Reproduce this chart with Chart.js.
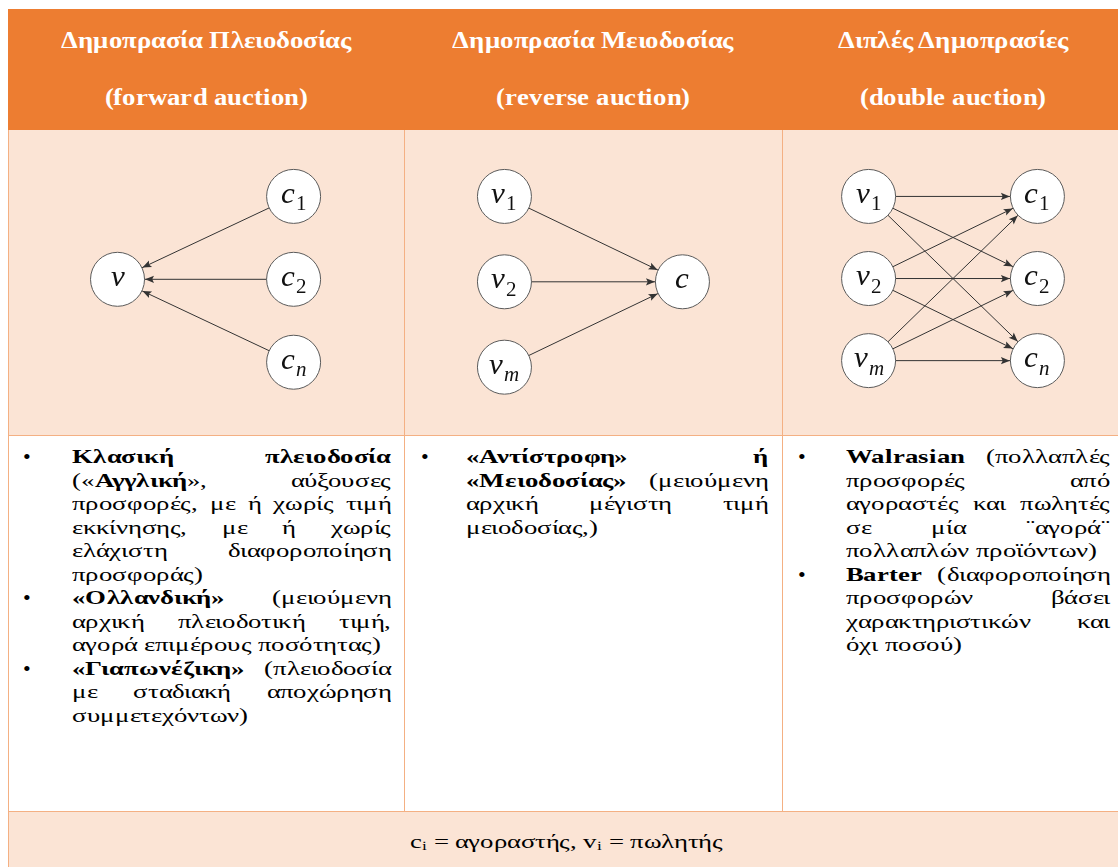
<!DOCTYPE html>
<html>
<head>
<meta charset="utf-8">
<script src="https://cdn.jsdelivr.net/npm/chart.js@4.4.1/dist/chart.umd.min.js"></script>
<style>
  @font-face { font-family: 'DocSerif'; font-style: normal; font-weight: 400;
    src: local('Liberation Serif'), local('LiberationSerif'), local('DejaVu Serif'); }
  @font-face { font-family: 'DocSerif'; font-style: normal; font-weight: 700;
    src: local('Liberation Serif Bold'), local('LiberationSerif-Bold'), local('DejaVu Serif Bold'); }
  @font-face { font-family: 'DocSerif'; font-style: italic; font-weight: 400;
    src: local('Liberation Serif Italic'), local('LiberationSerif-Italic'), local('DejaVu Serif Italic'); }
  html, body { margin: 0; padding: 0; background: #fff; }
  body {
    width: 1118px; height: 867px; overflow: hidden; position: relative;
    font-family: 'DocSerif', 'Liberation Serif', serif; color: #000;
  }
  .abs { position: absolute; box-sizing: border-box; }
  .head { background: #ED7D31; }
  .peach { background: #FBE4D5; }
  .hline { background: #F4B083; height: 1px; }
  .vline { background: #F4B083; width: 1px; }
  .htxt {
    color: #fff; font-weight: bold; font-size: 24px; line-height: 30px;
    text-align: center; white-space: nowrap; transform-origin: 50% 0;
  }
  .list { font-size: 20px; line-height: 23.5px; transform-origin: 0 0; }
  .ln { height: 23.5px; }
  .j { text-align: justify; text-align-last: justify; }
  .bul { position: absolute; font-size: 22px; line-height: 23.5px; }
  .foot { font-size: 20px; line-height: 24px; text-align: center; white-space: nowrap; transform-origin: 50% 0; }
  .foot sub { font-size: 13px; vertical-align: -2px; line-height: 0; }
  canvas { position: absolute; }
</style>
</head>
<body>

<!-- header row -->
<div class="abs head" style="left:8px;top:9px;width:1116px;height:121px;"></div>
<div class="abs htxt" style="left:8px;width:396px;top:25px;">Δημοπρασία Πλειοδοσίας</div>
<div class="abs htxt" style="left:8px;width:396px;top:82px;">(forward auction)</div>
<div class="abs htxt" style="left:404px;width:378px;top:25px;">Δημοπρασία Μειοδοσίας</div>
<div class="abs htxt" style="left:404px;width:378px;top:82px;">(reverse auction)</div>
<div class="abs htxt" style="left:782px;width:342px;top:25px;">Διπλές Δημοπρασίες</div>
<div class="abs htxt" style="left:782px;width:342px;top:82px;">(double auction)</div>

<!-- diagram row + footer backgrounds -->
<div class="abs peach" style="left:8px;top:130px;width:1116px;height:306px;"></div>
<div class="abs peach" style="left:8px;top:812px;width:1116px;height:60px;"></div>

<!-- grid lines -->
<div class="abs hline" style="left:8px;top:435px;width:1116px;"></div>
<div class="abs hline" style="left:8px;top:811px;width:1116px;"></div>
<div class="abs vline" style="left:8px;top:130px;height:740px;"></div>
<div class="abs vline" style="left:404px;top:130px;height:682px;"></div>
<div class="abs vline" style="left:782px;top:130px;height:682px;"></div>

<!-- diagrams -->
<canvas id="fwd" width="396" height="306" style="left:8px;top:130px;"></canvas>
<canvas id="rev" width="378" height="306" style="left:404px;top:130px;"></canvas>
<canvas id="dbl" width="342" height="306" style="left:782px;top:130px;"></canvas>

<!-- column 1 list -->
<div class="bul" style="left:23px;top:445px;">•</div>
<div class="bul" style="left:23px;top:586px;">•</div>
<div class="bul" style="left:23px;top:656.5px;">•</div>
<div class="abs list" data-w="319" style="left:72px;top:445px;">
  <div class="ln j"><b>Κλασική</b> <b>πλειοδοσία</b></div>
  <div class="ln j">(«<b>Αγγλική</b>», αύξουσες</div>
  <div class="ln j">προσφορές, με ή χωρίς τιμή</div>
  <div class="ln j">εκκίνησης, με ή χωρίς</div>
  <div class="ln j">ελάχιστη διαφοροποίηση</div>
  <div class="ln">προσφοράς)</div>
  <div class="ln j"><b>«Ολλανδική»</b> (μειούμενη</div>
  <div class="ln j">αρχική πλειοδοτική τιμή,</div>
  <div class="ln">αγορά επιμέρους ποσότητας)</div>
  <div class="ln j"><b>«Γιαπωνέζικη»</b> (πλειοδοσία</div>
  <div class="ln j">με σταδιακή αποχώρηση</div>
  <div class="ln">συμμετεχόντων)</div>
</div>

<!-- column 2 list -->
<div class="bul" style="left:421px;top:445px;">•</div>
<div class="abs list" data-w="302" style="left:466px;top:445px;">
  <div class="ln j"><b>«Αντίστροφη»</b> <b>ή</b></div>
  <div class="ln j"><b>«Μειοδοσίας»</b> (μειούμενη</div>
  <div class="ln j">αρχική μέγιστη τιμή</div>
  <div class="ln">μειοδοσίας,)</div>
</div>

<!-- column 3 list -->
<div class="bul" style="left:798px;top:445px;">•</div>
<div class="bul" style="left:798px;top:562.5px;">•</div>
<div class="abs list" data-w="264" style="left:846px;top:445px;">
  <div class="ln j"><b>Walrasian</b> (πολλαπλές</div>
  <div class="ln j">προσφορές από</div>
  <div class="ln j">αγοραστές και πωλητές</div>
  <div class="ln j">σε μία ¨αγορά¨</div>
  <div class="ln">πολλαπλών προϊόντων)</div>
  <div class="ln j"><b>Barter</b> (διαφοροποίηση</div>
  <div class="ln j">προσφορών βάσει</div>
  <div class="ln j">χαρακτηριστικών και</div>
  <div class="ln">όχι ποσού)</div>
</div>

<!-- footer -->
<div class="abs foot" style="left:8px;width:1116px;top:829px;">c<sub>i</sub> = αγοραστής, v<sub>i</sub> = πωλητής</div>

<script>
// forward auction: one seller v, buyers c1..cn, offers go to the seller
const fwdLabels = ['v', 'c_1', 'c_2', 'c_n'];
const fwdCol = [0, 1, 1, 1];
const fwdRow = [1, 0, 1, 2];
const fwdFrom = [1, 2, 3];
const fwdTo = [0, 0, 0];

// reverse auction: sellers v1..vm, one buyer c
const revLabels = ['v_1', 'v_2', 'v_m', 'c'];
const revCol = [0, 0, 0, 1];
const revRow = [0, 1, 2, 1];
const revFrom = [0, 1, 2];
const revTo = [3, 3, 3];

// double auction: every seller linked to every buyer
const dblLabels = ['v_1', 'v_2', 'v_m', 'c_1', 'c_2', 'c_n'];
const dblCol = [0, 0, 0, 1, 1, 1];
const dblRow = [0, 1, 2, 0, 1, 2];
const dblFrom = [0, 0, 0, 1, 1, 1, 2, 2, 2];
const dblTo = [3, 4, 5, 3, 4, 5, 3, 4, 5];

const NODE_R = 27;
const edgeColor = '#333333';
const nodeStroke = '#5a5a5a';
const FAMILY = "'DocSerif', 'Liberation Serif', serif";

// stretch text blocks so they take the same widths as in the source document
const meas = document.createElement('canvas').getContext('2d');
function textWidth(font, s) { meas.font = font + ' ' + FAMILY; return meas.measureText(s).width; }
function fitText() {
  const bodyScale = 309 / textWidth('20px', 'αγορά επιμέρους ποσότητας)');
  const headScale = 290 / textWidth('bold 24px', 'Δημοπρασία Πλειοδοσίας');
  const footScale = 313 / (textWidth('20px', 'c = αγοραστής, v = πωλητής') + 8);
  document.querySelectorAll('.list').forEach(el => {
    el.style.width = (+el.dataset.w / bodyScale) + 'px';
    el.style.transform = 'scaleX(' + bodyScale + ')';
  });
  document.querySelectorAll('.htxt').forEach(el => { el.style.transform = 'scaleX(' + headScale + ')'; });
  document.querySelector('.foot').style.transform = 'scaleX(' + footScale + ')';
}
fitText();

// arrow heads at the target circle
const arrowPlugin = {
  id: 'arrows',
  afterDatasetsDraw(chart) {
    const ctx = chart.ctx;
    ctx.save();
    ctx.fillStyle = edgeColor;
    chart.data.datasets.forEach((ds, i) => {
      if (!ds.isEdge) return;
      const pts = chart.getDatasetMeta(i).data;
      const a = pts[0], b = pts[1];
      const dx = b.x - a.x, dy = b.y - a.y;
      const len = Math.hypot(dx, dy);
      const ux = dx / len, uy = dy / len;
      const tx = b.x - ux * (NODE_R + 0.5), ty = b.y - uy * (NODE_R + 0.5);
      const L = 9, W = 3.6;
      ctx.beginPath();
      ctx.moveTo(tx, ty);
      ctx.lineTo(tx - ux * L - uy * W, ty - uy * L + ux * W);
      ctx.lineTo(tx - ux * L * 0.8, ty - uy * L * 0.8);
      ctx.lineTo(tx - ux * L + uy * W, ty - uy * L - ux * W);
      ctx.closePath();
      ctx.fill();
    });
    ctx.restore();
  }
};

// math style labels inside the nodes
const labelPlugin = {
  id: 'nodeLabels',
  afterDatasetsDraw(chart) {
    const ctx = chart.ctx;
    const labels = chart.options.plugins.nodeLabels.labels;
    const meta = chart.getDatasetMeta(chart.data.datasets.length - 1);
    ctx.save();
    ctx.fillStyle = '#111';
    ctx.textBaseline = 'alphabetic';
    meta.data.forEach((p, k) => {
      const [main, sub] = labels[k].split('_');
      const mainFont = 'italic 31px ' + FAMILY;
      const subFont = (sub && /\d/.test(sub) ? '' : 'italic ') + '21px ' + FAMILY;
      ctx.font = mainFont;
      const w1 = ctx.measureText(main).width;
      let w2 = 0;
      if (sub) { ctx.font = subFont; w2 = ctx.measureText(sub).width + 1; }
      const x0 = p.x - (w1 + w2) / 2;
      ctx.font = mainFont;
      ctx.fillText(main, x0, p.y + 6.5);
      if (sub) {
        ctx.font = subFont;
        ctx.fillText(sub, x0 + w1 + 1, p.y + 14);
      }
    });
    ctx.restore();
  }
};

function drawGraph(id, labels, cols, rows, from, to, xMin, xMax, yMin, yMax) {
  const nodes = cols.map((c, k) => ({ x: c, y: rows[k] }));
  const edgeSets = from.map((f, k) => ({
    isEdge: true,
    data: [nodes[f], nodes[to[k]]],
    showLine: true,
    borderColor: edgeColor,
    borderWidth: 1,
    pointRadius: 0,
    fill: false,
    order: 1,
    clip: false
  }));
  const nodeSet = {
    data: nodes,
    showLine: false,
    pointRadius: NODE_R,
    pointBackgroundColor: '#ffffff',
    pointBorderColor: nodeStroke,
    pointBorderWidth: 1,
    order: 0,
    clip: false
  };
  return new Chart(document.getElementById(id), {
    type: 'scatter',
    data: { datasets: [...edgeSets, nodeSet] },
    options: {
      responsive: false,
      animation: false,
      events: [],
      layout: { padding: 0 },
      scales: {
        x: { type: 'linear', display: false, min: xMin, max: xMax },
        y: { type: 'linear', display: false, min: yMin, max: yMax, reverse: true }
      },
      plugins: {
        legend: { display: false },
        tooltip: { enabled: false },
        nodeLabels: { labels: labels }
      }
    },
    plugins: [arrowPlugin, labelPlugin]
  });
}

const charts = [
  drawGraph('fwd', fwdLabels, fwdCol, fwdRow, fwdFrom, fwdTo, -0.463, 1.468, -0.463, 2.552),
  drawGraph('rev', revLabels, revCol, revRow, revFrom, revTo, -0.407, 1.402, -0.450, 2.478),
  drawGraph('dbl', dblLabels, dblCol, dblRow, dblFrom, dblTo, -0.347, 1.347, -0.468, 2.577)
];

// once the aliased serif faces are loaded, refit the text and repaint the labels
Promise.all([
  document.fonts.load('20px DocSerif', 'αβγ'),
  document.fonts.load('bold 20px DocSerif', 'αβγ'),
  document.fonts.load('italic 20px DocSerif', 'vc')
]).then(() => {
  fitText();
  charts.forEach(c => c.draw());
}).catch(() => {});
</script>
</body>
</html>
